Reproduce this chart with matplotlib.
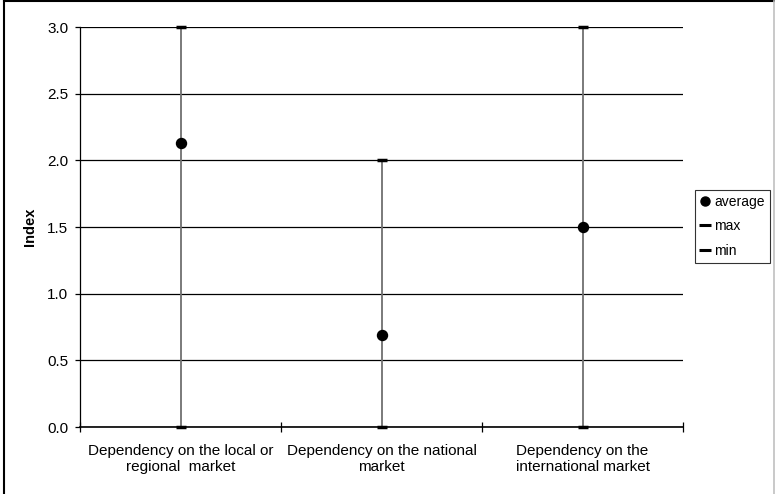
import matplotlib.pyplot as plt
from matplotlib.lines import Line2D

plt.rcParams['font.family'] = ['Liberation Sans', 'DejaVu Sans']

categorias = [
    "Dependency on the local or\nregional  market",
    "Dependency on the national\nmarket",
    "Dependency on the\ninternational market",
]
average = [2.13, 0.69, 1.5]
maximo = [3.0, 2.0, 3.0]
minimo = [0.0, 0.0, 0.0]

W, H = 775, 494
fig = plt.figure(figsize=(W/100, H/100), dpi=100)
ax = fig.add_axes([80/W, 1-427/H, (683-80)/W, 400/H])

x = list(range(len(categorias)))

# high-low lines
ax.vlines(x, minimo, maximo, color='#707070', linewidth=1.3, zorder=2)
ax.plot(x, maximo, linestyle='none', marker='_', markersize=7.5, markeredgewidth=2.5,
        color='black', zorder=3, clip_on=False)
ax.plot(x, minimo, linestyle='none', marker='_', markersize=7.5, markeredgewidth=2.5,
        color='black', zorder=3, clip_on=False)
ax.plot(x, average, linestyle='none', marker='o', markersize=7.2, color='black', zorder=4)

ax.set_xlim(-0.5, 2.5)
ax.set_ylim(0, 3)
ax.set_yticks([0, 0.5, 1.0, 1.5, 2.0, 2.5, 3.0])
ax.set_yticklabels(['0.0', '0.5', '1.0', '1.5', '2.0', '2.5', '3.0'], fontsize=11)
ax.set_xticks(x)
ax.set_xticklabels(categorias, fontsize=11, linespacing=1.25)
ax.tick_params(axis='x', length=0, pad=12)
ax.set_xticks([-0.5, 0.5, 1.5, 2.5], minor=True)
ax.tick_params(axis='x', which='minor', length=7, direction='inout', width=0.9)
ax.tick_params(axis='y', length=3.5, width=0.9, pad=5)
ax.yaxis.grid(True, color='black', linewidth=0.9)
ax.set_axisbelow(True)
for s in ['top', 'right']:
    ax.spines[s].set_visible(False)
ax.spines['left'].set_linewidth(0.9)
ax.spines['bottom'].set_linewidth(1.2)
ax.set_ylabel("Index", fontsize=10.5, fontweight='bold', labelpad=7)

handles = [
    Line2D([], [], linestyle='none', marker='o', markersize=6.5, color='black'),
    Line2D([], [], linestyle='none', marker='_', markersize=8, markeredgewidth=2.2, color='black'),
    Line2D([], [], linestyle='none', marker='_', markersize=8, markeredgewidth=2.2, color='black'),
]
leg = fig.legend(handles, ['average', 'max', 'min'], loc='upper left',
                 bbox_to_anchor=(695/W, 1-190/H), fontsize=10,
                 frameon=True, fancybox=False, edgecolor='black',
                 handlelength=0.7, handletextpad=0.35, borderpad=0.35,
                 labelspacing=0.75, borderaxespad=0)
leg.get_frame().set_linewidth(0.8)

# chart frame: black left/top, light grey right
fig.add_artist(Line2D([3.5/W, 3.5/W], [0, 1-1.5/H], color='black', linewidth=1.5))
fig.add_artist(Line2D([3.5/W, 1], [1-1.5/H, 1-1.5/H], color='black', linewidth=1.5))
fig.add_artist(Line2D([773.5/W, 773.5/W], [0, 1-1.5/H], color='#c0c0c0', linewidth=1.2))

fig.savefig("out.png", dpi=100)
